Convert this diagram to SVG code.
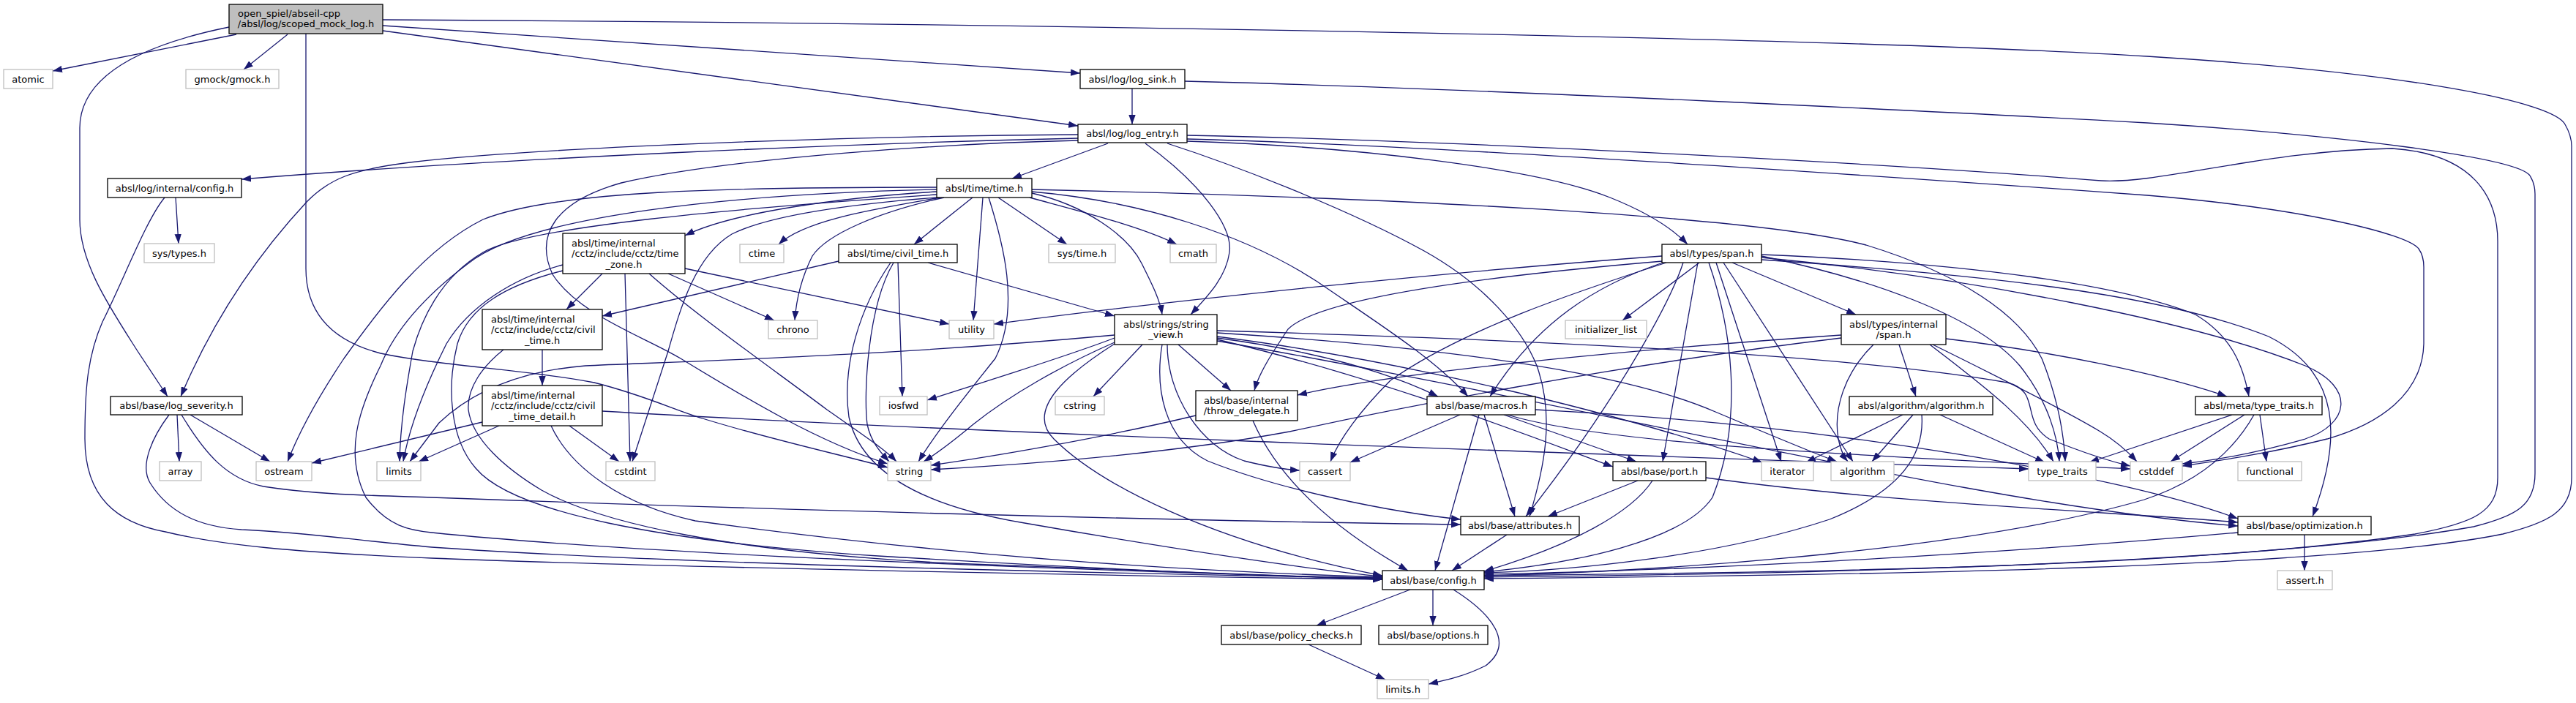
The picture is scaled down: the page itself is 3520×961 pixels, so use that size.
<svg xmlns="http://www.w3.org/2000/svg" width="3520" height="961" viewBox="0 0 3520 961">
<style>
.n rect{fill:#fff;stroke:#000;stroke-width:1.3}
.x rect{fill:#fff;stroke:#bfbfbf;stroke-width:1.3}
.r rect{fill:#bfbfbf;stroke:#000;stroke-width:1.3}
text{font-family:"DejaVu Sans","Liberation Sans",sans-serif;font-size:13px;fill:#000;text-anchor:middle}
text.l{text-anchor:start}
#edges path{fill:none;stroke:#191970;stroke-width:1.3;marker-end:url(#a)}
</style>
<defs>
<marker id="a" markerUnits="userSpaceOnUse" viewBox="0 0 13 9.4" refX="13" refY="4.7" markerWidth="13" markerHeight="9.4" orient="auto"><path d="M0,0 L13,4.7 L0,9.4 z" fill="#191970"/></marker>
</defs>
<rect width="3520" height="961" fill="#fff"/>
<g id="edges">
<path d="M323,47 L72,97"/>
<path d="M393,47 L333,95"/>
<path d="M523,35 L1476,100"/>
<path d="M523,42 L1473,172"/>
<path d="M523,27 C1300,31 2500,50 2934,77 C3300,100 3490,140 3505,170 C3512,182 3514,190 3514,200 L3514,653 C3514,700 3480,715 3420,730 C3200,775 2600,786 2028,791"/>
<path d="M313,37 C200,60 109,100 109,175 L109,300 C109,360 150,420 188,480 L229,542"/>
<path d="M418,46 L418,367 C418,440 470,470 520,483 C600,500 720,505 812,523 C880,540 920,560 960,572 C1050,600 1150,622 1213,639"/>
<path d="M1547,121 L1547,170"/>
<path d="M1619,111 C2000,120 2700,155 2934,168 C3200,185 3440,215 3457,240 C3462,248 3464,255 3464,265 L3464,647 C3464,690 3440,705 3380,720 C3100,770 2500,784 2028,789"/>
<path d="M1622,185 C2000,192 2600,225 2871,247 C2950,252 3100,205 3269,203 C3380,210 3413,270 3413,330 L3413,653 C3413,700 3380,715 3300,730 C3000,775 2500,782 2028,787"/>
<path d="M1622,190 C2000,200 2700,250 2934,267 C3150,285 3290,320 3305,340 C3310,347 3312,355 3312,365 L3312,470 C3310,540 3250,580 3180,600 C3100,620 3030,630 2982,637"/>
<path d="M1473,189 C1200,195 700,215 330,245"/>
<path d="M1473,184 C1100,186 700,205 560,222 C480,232 450,245 420,275 C350,350 290,440 247,542"/>
<path d="M1473,192 C1300,196 1000,215 849,250 C760,275 730,320 755,375 C790,430 880,460 930,490 C1020,545 1120,605 1213,634"/>
<path d="M1514,196 L1383,244"/>
<path d="M1565,196 C1640,250 1685,310 1680,345 C1675,380 1650,405 1627,430"/>
<path d="M1622,193 C1850,200 2100,230 2200,270 C2250,290 2285,312 2306,334"/>
<path d="M1595,196 C1700,230 1850,290 1946,343 C2030,390 2080,450 2100,500 C2125,570 2110,640 2090,706"/>
<path d="M240,270 L244,333"/>
<path d="M225,270 C200,300 170,380 140,440 C118,490 116,540 116,600 C116,680 160,715 226,727 C300,745 400,755 590,763 C900,775 1500,787 1889,792"/>
<path d="M242,567 L245,631"/>
<path d="M260,567 L369,631"/>
<path d="M231,567 C210,595 190,635 205,660 C230,700 270,720 330,724 C420,728 480,738 590,748 C900,770 1500,784 1889,790"/>
<path d="M248,567 C280,620 310,655 360,665 C430,676 500,677 590,680 C1000,695 1600,712 1996,717"/>
<path d="M1280,262 C1150,270 1000,290 936,322"/>
<path d="M1329,270 L1249,334"/>
<path d="M1280,256 C1000,256 760,260 660,300 C580,340 520,420 470,490 C430,550 405,600 393,631"/>
<path d="M1280,266 C1000,285 720,310 660,345 C600,380 575,440 564,480 C555,530 547,580 546,631"/>
<path d="M1280,270 C1150,280 1050,295 1000,320 C950,350 930,420 913,480 L864,631"/>
<path d="M1285,270 C1200,285 1100,300 1064,334"/>
<path d="M1290,270 C1200,290 1130,320 1110,350 C1095,380 1088,410 1086,438"/>
<path d="M1343,270 L1330,438"/>
<path d="M1351,270 C1370,330 1395,420 1360,490 C1320,540 1280,590 1255,631"/>
<path d="M1364,270 L1458,334"/>
<path d="M1407,270 C1480,290 1560,310 1608,334"/>
<path d="M1410,264 C1480,280 1540,320 1560,360 C1575,390 1585,410 1588,430"/>
<path d="M1410,262 C1560,275 1700,320 1800,385 C1880,440 1960,490 2006,542"/>
<path d="M1410,259 C1900,270 2400,295 2550,335 C2680,375 2760,430 2790,490 C2810,540 2820,590 2822,631"/>
<path d="M1280,259 C1000,265 720,295 640,360 C580,405 540,450 520,500 C490,560 470,620 500,680 C530,720 560,725 590,728 C900,760 1500,780 1889,791"/>
<path d="M823,374 L774,423"/>
<path d="M913,374 L1058,438"/>
<path d="M854,374 C856,450 859,550 861,631"/>
<path d="M887,374 C950,430 1050,500 1130,560 C1180,595 1210,615 1225,631"/>
<path d="M936,367 L1297,443"/>
<path d="M769,362 C700,380 640,420 610,470 C585,520 560,580 551,631"/>
<path d="M769,370 C690,390 640,420 625,470 C610,530 615,600 650,640 C700,700 900,740 1200,760 C1500,778 1750,788 1889,792"/>
<path d="M1146,357 L823,432"/>
<path d="M1268,359 L1523,432"/>
<path d="M1227,359 L1233,542"/>
<path d="M1221,359 C1185,420 1180,540 1185,580 C1190,605 1205,620 1215,631"/>
<path d="M1217,359 C1175,420 1150,500 1160,570 C1175,640 1250,690 1400,715 C1600,750 1800,780 1889,788"/>
<path d="M741,478 L741,527"/>
<path d="M688,478 C660,500 638,530 640,560 C645,600 690,640 740,670 C820,715 1000,755 1300,770 C1600,782 1800,789 1889,792"/>
<path d="M778,582 L846,631"/>
<path d="M682,582 L572,631"/>
<path d="M659,577 L426,633"/>
<path d="M823,562 C1300,590 2000,615 2772,641"/>
<path d="M753,582 C780,640 850,690 950,712 C1300,760 1600,780 1889,789"/>
<path d="M1523,462 C1450,490 1350,520 1267,547"/>
<path d="M1523,468 C1450,500 1380,540 1330,580 C1300,605 1280,620 1262,631"/>
<path d="M1561,471 L1494,542"/>
<path d="M1610,471 L1682,534"/>
<path d="M1523,458 C1200,488 900,495 800,500 C700,508 640,540 600,578 L560,631"/>
<path d="M1523,470 C1460,510 1400,560 1440,600 C1500,660 1650,740 1889,787"/>
<path d="M1595,471 C1595,540 1640,610 1700,630 C1740,640 1760,642 1776,643"/>
<path d="M1588,471 C1578,530 1590,600 1650,630 C1750,670 1900,700 1996,710"/>
<path d="M1663,462 C1800,480 1900,510 1965,542"/>
<path d="M1663,455 C1900,470 2200,500 2344,563 C2420,595 2480,620 2510,631"/>
<path d="M1663,460 C1900,490 2200,560 2408,632"/>
<path d="M1663,452 C2000,462 2500,480 2743,523 C2790,535 2760,575 2800,600 C2850,620 2880,630 2911,637"/>
<path d="M1663,464 C1900,520 2100,600 2204,638"/>
<path d="M1663,466 C2200,560 2700,690 3058,719"/>
<path d="M1634,568 C1500,600 1350,625 1272,636"/>
<path d="M1712,575 C1740,640 1800,710 1924,780"/>
<path d="M1995,567 L1845,632"/>
<path d="M2028,567 L2070,706"/>
<path d="M2021,567 L1961,780"/>
<path d="M2055,567 L2236,631"/>
<path d="M2098,560 C2500,580 2900,650 3058,709"/>
<path d="M2060,567 C2200,610 2600,625 2911,641"/>
<path d="M2238,657 L2115,706"/>
<path d="M2258,657 C2230,700 2150,745 2028,781"/>
<path d="M2331,653 C2600,690 2900,700 3058,714"/>
<path d="M2059,731 L1984,780"/>
<path d="M1927,806 L1799,855"/>
<path d="M1958,806 L1958,855"/>
<path d="M1986,806 C2040,840 2070,880 2030,910 C2000,925 1975,930 1952,935"/>
<path d="M1788,881 L1893,929"/>
<path d="M3149,731 L3149,780"/>
<path d="M3058,728 C2700,760 2300,780 2028,785"/>
<path d="M3067,567 L2966,631"/>
<path d="M3088,567 L3097,631"/>
<path d="M3050,567 L2855,632"/>
<path d="M3080,567 C3050,620 3000,660 2930,683 C2700,750 2300,780 2028,787"/>
<path d="M2600,567 L2468,632"/>
<path d="M2614,567 L2558,631"/>
<path d="M2651,567 L2794,632"/>
<path d="M2626,567 C2630,620 2600,670 2500,710 C2350,760 2150,780 2028,783"/>
<path d="M2595,471 L2618,542"/>
<path d="M2560,471 C2520,510 2505,560 2512,600 C2515,615 2520,625 2525,631"/>
<path d="M2516,458 C2200,480 1900,510 1773,540"/>
<path d="M2516,462 C2200,500 1900,560 1762,590 C1600,620 1400,635 1272,642"/>
<path d="M2637,471 C2700,520 2770,570 2806,631"/>
<path d="M2641,471 C2720,510 2820,560 2870,590 C2895,605 2910,620 2920,631"/>
<path d="M2659,463 C2800,480 2950,510 3043,542"/>
<path d="M2367,359 L2536,430"/>
<path d="M2322,359 L2217,438"/>
<path d="M2345,359 L2434,631"/>
<path d="M2355,359 L2532,631"/>
<path d="M2407,350 C2550,380 2700,430 2760,500 C2800,550 2812,600 2814,631"/>
<path d="M2407,352 C2700,380 3000,440 3150,500 C3220,530 3210,580 3150,600 C3080,620 3020,630 2982,634"/>
<path d="M2407,348 C2700,360 2900,390 3000,430 C3050,460 3065,500 3073,542"/>
<path d="M2407,355 C2700,375 2950,400 3100,460 C3200,510 3200,600 3160,706"/>
<path d="M2277,359 C2150,400 2000,450 1900,520 C1860,560 1830,600 1818,631"/>
<path d="M2275,358 C2180,390 2100,440 2036,542"/>
<path d="M2300,359 C2280,420 2200,560 2085,706"/>
<path d="M2320,359 L2272,631"/>
<path d="M2271,350 C2000,370 1600,410 1358,443"/>
<path d="M2272,357 C2000,380 1800,410 1760,450 C1740,480 1720,510 1714,534"/>
<path d="M2335,359 C2370,460 2380,580 2340,680 C2300,740 2150,770 2028,782"/>
</g>
<g id="root" class="r"><rect x="313" y="6" width="210" height="40"/><text class="l" x="325" y="22.5">open_spiel/abseil-cpp</text><text x="418" y="37">/absl/log/scoped_mock_log.h</text></g>
<g id="atomic" class="x"><rect x="5" y="95" width="67" height="26"/><text x="38.5" y="112.5">atomic</text></g>
<g id="gmock" class="x"><rect x="254" y="95" width="127" height="26"/><text x="317.5" y="112.5">gmock/gmock.h</text></g>
<g id="log_sink" class="n"><rect x="1476" y="95" width="143" height="26"/><text x="1547.5" y="112.5">absl/log/log_sink.h</text></g>
<g id="log_entry" class="n"><rect x="1473" y="170" width="149" height="25"/><text x="1547.5" y="187">absl/log/log_entry.h</text></g>
<g id="log_internal_config" class="n"><rect x="147" y="244" width="183" height="26"/><text x="238.5" y="261.5">absl/log/internal/config.h</text></g>
<g id="time" class="n"><rect x="1280" y="244" width="130" height="26"/><text x="1345" y="261.5">absl/time/time.h</text></g>
<g id="sys_types" class="x"><rect x="197" y="333" width="96" height="26"/><text x="245" y="350.5">sys/types.h</text></g>
<g id="time_zone" class="n"><rect x="769" y="319" width="167" height="55"/><text class="l" x="781" y="336.5">absl/time/internal</text><text class="l" x="781" y="351">/cctz/include/cctz/time</text><text x="852.5" y="365.5">_zone.h</text></g>
<g id="ctime" class="x"><rect x="1011" y="334" width="60" height="25"/><text x="1041" y="351">ctime</text></g>
<g id="civil_time" class="n"><rect x="1146" y="334" width="162" height="25"/><text x="1227" y="351">absl/time/civil_time.h</text></g>
<g id="sys_time" class="x"><rect x="1433" y="334" width="91" height="25"/><text x="1478.5" y="351">sys/time.h</text></g>
<g id="cmath" class="x"><rect x="1599" y="334" width="63" height="25"/><text x="1630.5" y="351">cmath</text></g>
<g id="span" class="n"><rect x="2271" y="334" width="136" height="25"/><text x="2339" y="351">absl/types/span.h</text></g>
<g id="cctz_civil_time" class="n"><rect x="659" y="423" width="164" height="55"/><text class="l" x="671" y="440.5">absl/time/internal</text><text class="l" x="671" y="455">/cctz/include/cctz/civil</text><text x="741" y="469.5">_time.h</text></g>
<g id="chrono" class="x"><rect x="1050" y="438" width="67" height="25"/><text x="1083.5" y="455">chrono</text></g>
<g id="utility" class="x"><rect x="1297" y="438" width="61" height="25"/><text x="1327.5" y="455">utility</text></g>
<g id="string_view" class="n"><rect x="1523" y="430" width="140" height="41"/><text class="l" x="1535" y="447.5">absl/strings/string</text><text x="1593" y="462">_view.h</text></g>
<g id="initializer_list" class="x"><rect x="2139" y="438" width="111" height="25"/><text x="2194.5" y="455">initializer_list</text></g>
<g id="internal_span" class="n"><rect x="2516" y="430" width="143" height="41"/><text class="l" x="2527" y="447.5">absl/types/internal</text><text x="2587.5" y="462">/span.h</text></g>
<g id="log_severity" class="n"><rect x="151" y="542" width="180" height="25"/><text x="241" y="559">absl/base/log_severity.h</text></g>
<g id="civil_time_detail" class="n"><rect x="659" y="527" width="164" height="55"/><text class="l" x="671" y="544.5">absl/time/internal</text><text class="l" x="671" y="559">/cctz/include/cctz/civil</text><text x="741" y="573.5">_time_detail.h</text></g>
<g id="iosfwd" class="x"><rect x="1202" y="542" width="65" height="25"/><text x="1234.5" y="559">iosfwd</text></g>
<g id="cstring" class="x"><rect x="1442" y="542" width="67" height="25"/><text x="1475.5" y="559">cstring</text></g>
<g id="throw_delegate" class="n"><rect x="1634" y="534" width="139" height="41"/><text class="l" x="1645" y="551.5">absl/base/internal</text><text x="1703.5" y="566">/throw_delegate.h</text></g>
<g id="macros" class="n"><rect x="1950" y="542" width="148" height="25"/><text x="2024" y="559">absl/base/macros.h</text></g>
<g id="algorithm_h" class="n"><rect x="2527" y="542" width="196" height="25"/><text x="2625" y="559">absl/algorithm/algorithm.h</text></g>
<g id="meta_type_traits" class="n"><rect x="3000" y="542" width="173" height="25"/><text x="3086.5" y="559">absl/meta/type_traits.h</text></g>
<g id="array" class="x"><rect x="218" y="631" width="57" height="26"/><text x="246.5" y="648.5">array</text></g>
<g id="ostream" class="x"><rect x="350" y="631" width="76" height="26"/><text x="388" y="648.5">ostream</text></g>
<g id="limits" class="x"><rect x="515" y="631" width="60" height="26"/><text x="545" y="648.5">limits</text></g>
<g id="cstdint" class="x"><rect x="828" y="631" width="67" height="26"/><text x="861.5" y="648.5">cstdint</text></g>
<g id="string" class="x"><rect x="1213" y="631" width="59" height="26"/><text x="1242.5" y="648.5">string</text></g>
<g id="cassert" class="x"><rect x="1776" y="631" width="69" height="26"/><text x="1810.5" y="648.5">cassert</text></g>
<g id="port" class="n"><rect x="2204" y="631" width="127" height="26"/><text x="2267.5" y="648.5">absl/base/port.h</text></g>
<g id="iterator" class="x"><rect x="2407" y="631" width="71" height="26"/><text x="2442.5" y="648.5">iterator</text></g>
<g id="algorithm" class="x"><rect x="2502" y="631" width="86" height="26"/><text x="2545" y="648.5">algorithm</text></g>
<g id="type_traits" class="x"><rect x="2772" y="631" width="92" height="26"/><text x="2818" y="648.5">type_traits</text></g>
<g id="cstddef" class="x"><rect x="2911" y="631" width="71" height="26"/><text x="2946.5" y="648.5">cstddef</text></g>
<g id="functional" class="x"><rect x="3058" y="631" width="87" height="26"/><text x="3101.5" y="648.5">functional</text></g>
<g id="attributes" class="n"><rect x="1996" y="706" width="162" height="25"/><text x="2077" y="723">absl/base/attributes.h</text></g>
<g id="optimization" class="n"><rect x="3058" y="706" width="182" height="25"/><text x="3149" y="723">absl/base/optimization.h</text></g>
<g id="config" class="n"><rect x="1889" y="780" width="139" height="26"/><text x="1958.5" y="797.5">absl/base/config.h</text></g>
<g id="assert_h" class="x"><rect x="3112" y="780" width="75" height="26"/><text x="3149.5" y="797.5">assert.h</text></g>
<g id="policy_checks" class="n"><rect x="1669" y="855" width="191" height="26"/><text x="1764.5" y="872.5">absl/base/policy_checks.h</text></g>
<g id="options" class="n"><rect x="1884" y="855" width="149" height="26"/><text x="1958.5" y="872.5">absl/base/options.h</text></g>
<g id="limits_h" class="x"><rect x="1882" y="929" width="70" height="26"/><text x="1917" y="946.5">limits.h</text></g>
</svg>
